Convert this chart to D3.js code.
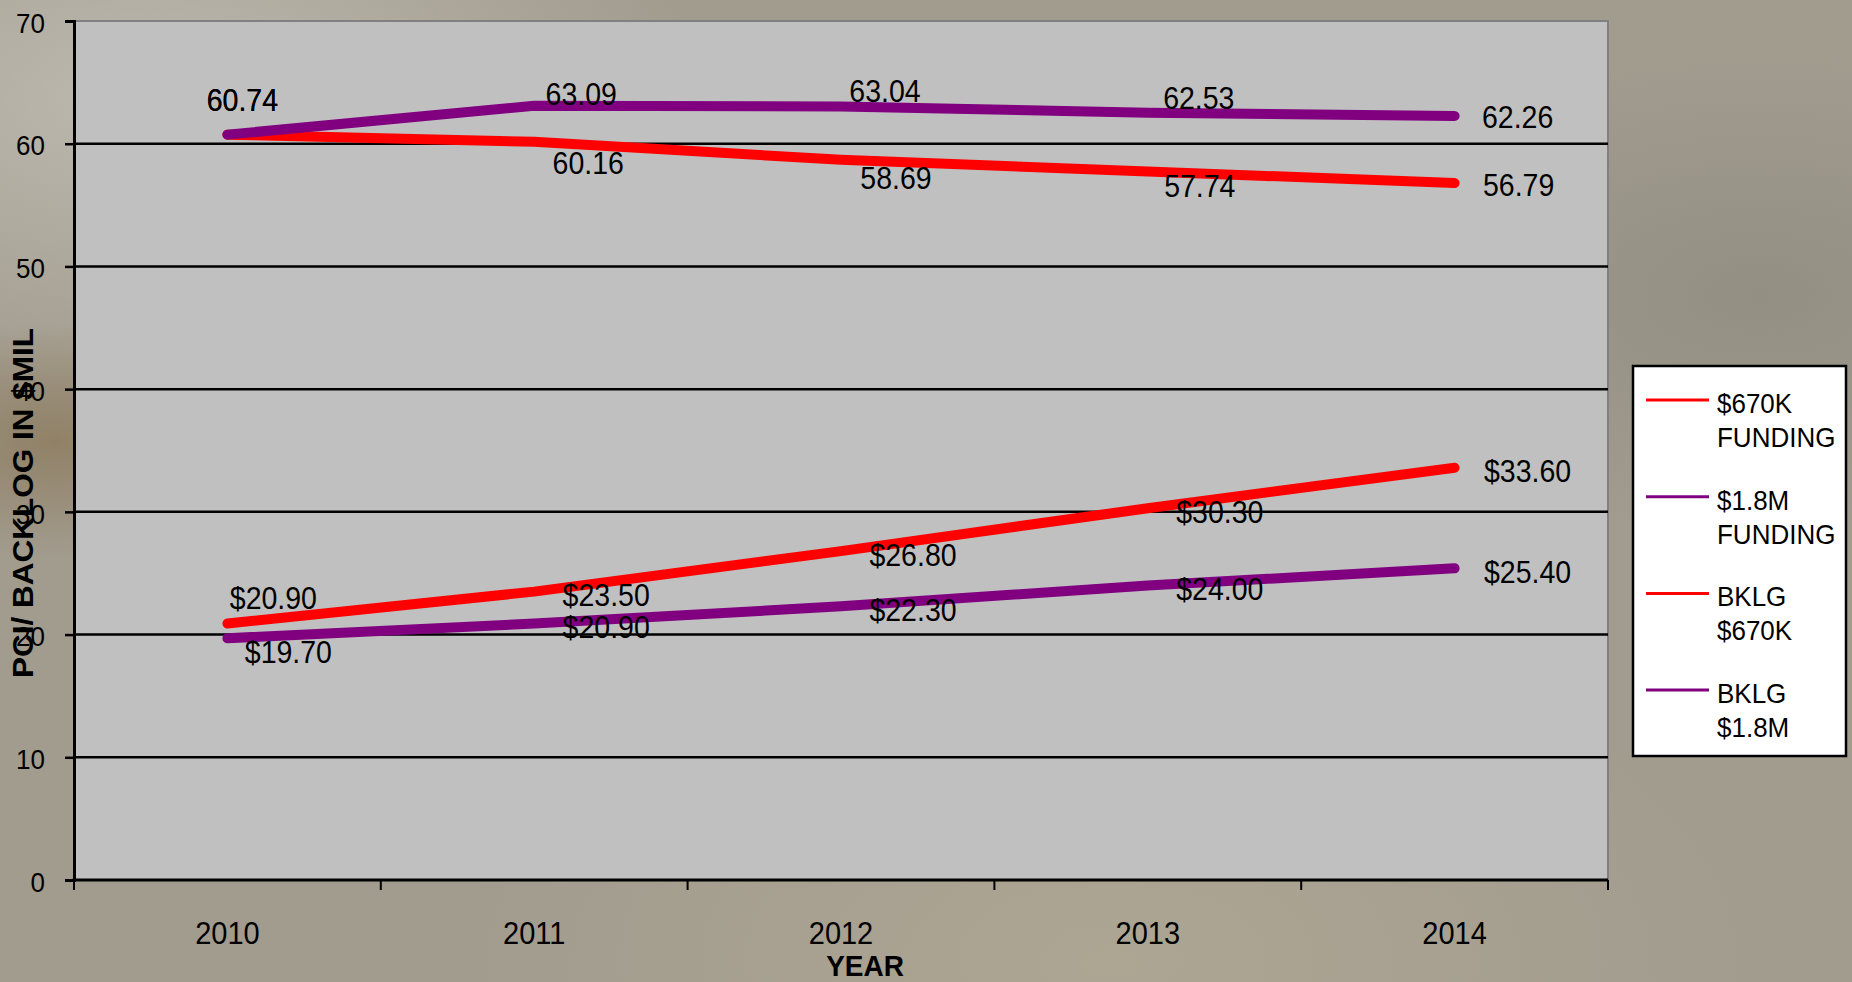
<!DOCTYPE html>
<html>
<head>
<meta charset="utf-8">
<script src="https://cdn.jsdelivr.net/npm/d3@7"></script>
<style>
  html, body { margin: 0; padding: 0; background: #a39e92; }
  svg { display: block; }
  text { font-family: 'Liberation Sans', Arial, sans-serif; fill: #000; }
</style>
</head>
<body>
<svg id="chart" width="1852" height="982"></svg>
<script>
const years = ['2010', '2011', '2012', '2013', '2014']
const funding670 = [60.74, 60.16, 58.69, 57.74, 56.79]
const funding18 = [60.74, 63.09, 63.04, 62.53, 62.26]
const backlog670 = [20.90, 23.50, 26.80, 30.30, 33.60]
const backlog18 = [19.70, 20.90, 22.30, 24.00, 25.40]
const yTicks = [0, 10, 20, 30, 40, 50, 60, 70]
const legendNames = [['$670K', 'FUNDING'], ['$1.8M', 'FUNDING'], ['BKLG', '$670K'], ['BKLG', '$1.8M']]

// where Excel put each value label, relative to its point (centre of the text)
const labelOffsets = [
  [[15, -35], [54, 21], [55, 18], [52, 15], [64, 2]],
  [[15, -35], [47, -12], [44, -15], [51, -15], [63, 1]],
  [[46, -25], [72, 3], [72, 4], [72, 4], [73, 3]],
  [[61, 14], [72, 4], [72, 4], [72, 4], [73, 4]]
]

const red = '#ff0000'
const purple = '#800080'

const series = [
  { values: funding670, color: red, fmt: d3.format('.2f') },
  { values: funding18, color: purple, fmt: d3.format('.2f') },
  { values: backlog670, color: red, fmt: d => '$' + d3.format('.2f')(d) },
  { values: backlog18, color: purple, fmt: d => '$' + d3.format('.2f')(d) }
]

const svg = d3.select('#chart')
const margin = { top: 21, right: 244, bottom: 102, left: 74 }
const width = 1852
const height = 982

// the original text is a little taller than it is wide
const stretch = 'scale(1,1.08)'

// stone-ish backdrop
const defs = svg.append('defs')
const blobs = [
  { id: 'b1', cx: '8%', cy: '10%', r: '30%', c: '#c4c0b6' },
  { id: 'b2', cx: '3%', cy: '45%', r: '12%', c: '#8c7a5c' },
  { id: 'b3', cx: '95%', cy: '30%', r: '25%', c: '#8f8c80' },
  { id: 'b4', cx: '60%', cy: '98%', r: '35%', c: '#b0a894' }
]
svg.append('rect').attr('width', width).attr('height', height).attr('fill', '#a29c8f')
blobs.forEach(b => {
  const g = defs.append('radialGradient').attr('id', b.id)
    .attr('cx', b.cx).attr('cy', b.cy).attr('r', b.r)
    .attr('gradientUnits', 'objectBoundingBox')
  g.append('stop').attr('offset', 0).attr('stop-color', b.c).attr('stop-opacity', 0.8)
  g.append('stop').attr('offset', 1).attr('stop-color', b.c).attr('stop-opacity', 0)
  svg.append('rect').attr('width', width).attr('height', height).attr('fill', `url(#${b.id})`)
})

const x = d3.scaleBand()
  .domain(years)
  .range([margin.left, width - margin.right])

const y = d3.scaleLinear()
  .domain([0, 70])
  .range([height - margin.bottom, margin.top])

const cx = d => x(d) + x.bandwidth() / 2

// plot area
svg.append('rect')
  .attr('x', margin.left)
  .attr('y', margin.top)
  .attr('width', width - margin.right - margin.left)
  .attr('height', y(0) - margin.top)
  .attr('fill', '#c0c0c0')
  .attr('stroke', '#808080')
  .attr('stroke-width', 2)

// gridlines
svg.append('g')
  .selectAll('line')
  .data(yTicks.filter(t => t > 0 && t < 70))
  .enter()
  .append('line')
  .attr('x1', margin.left)
  .attr('x2', width - margin.right)
  .attr('y1', d => y(d))
  .attr('y2', d => y(d))
  .attr('stroke', '#000')
  .attr('stroke-width', 2.5)

const yAxis = g => g
  .attr('transform', `translate(${margin.left},0)`)
  .call(d3.axisLeft(y).tickValues(yTicks).tickSize(9).tickPadding(20))
  .call(g => g.select('.domain').attr('stroke-width', 3))
  .call(g => g.selectAll('.tick line').attr('stroke-width', 2.5))
  .call(g => g.selectAll('.tick text')
    .attr('font-size', 26)
    .attr('font-family', 'Liberation Sans, Arial, sans-serif')
    .attr('dy', '0.4em')
    .attr('transform', stretch))

// x ticks sit on the band edges, labels in the band centres
const xEdges = years.map(d => x(d)).concat([width - margin.right])
const xAxis = g => {
  g.append('line')
    .attr('x1', margin.left - 1.5)
    .attr('x2', width - margin.right)
    .attr('y1', y(0))
    .attr('y2', y(0))
    .attr('stroke', '#000')
    .attr('stroke-width', 3)
  g.selectAll('line.tick')
    .data(xEdges)
    .enter()
    .append('line')
    .attr('class', 'tick')
    .attr('x1', d => d)
    .attr('x2', d => d)
    .attr('y1', y(0))
    .attr('y2', y(0) + 10)
    .attr('stroke', '#000')
    .attr('stroke-width', 2)
  g.selectAll('text')
    .data(years)
    .enter()
    .append('text')
    .attr('transform', d => `translate(${cx(d)},${y(0) + 53}) ${stretch}`)
    .attr('text-anchor', 'middle')
    .attr('dominant-baseline', 'central')
    .attr('font-size', 29)
    .text(d => d)
}

svg.append('g').call(yAxis)
svg.append('g').call(xAxis)

// axis titles
svg.append('text')
  .attr('transform', `translate(865,966) ${stretch}`)
  .attr('text-anchor', 'middle')
  .attr('dominant-baseline', 'central')
  .attr('font-size', 28)
  .attr('font-weight', 'bold')
  .text('YEAR')

svg.append('text')
  .attr('transform', 'translate(23,503) rotate(-90)')
  .attr('text-anchor', 'middle')
  .attr('dominant-baseline', 'central')
  .attr('font-size', 29)
  .attr('font-weight', 'bold')
  .attr('textLength', 350)
  .attr('lengthAdjust', 'spacingAndGlyphs')
  .text('PCI/ BACKLOG IN $MIL')

// series lines
const line = d3.line()
  .x((d, i) => cx(years[i]))
  .y(d => y(d))

series.forEach(s => {
  svg.append('path')
    .datum(s.values)
    .attr('d', line)
    .attr('fill', 'none')
    .attr('stroke', s.color)
    .attr('stroke-width', 10)
    .attr('stroke-linecap', 'round')
    .attr('stroke-linejoin', 'round')
})

// value labels
series.forEach((s, si) => {
  svg.append('g')
    .selectAll('text')
    .data(s.values)
    .enter()
    .append('text')
    .attr('transform', (d, i) =>
      `translate(${cx(years[i]) + labelOffsets[si][i][0]},${y(d) + labelOffsets[si][i][1]}) ${stretch}`)
    .attr('text-anchor', 'middle')
    .attr('dominant-baseline', 'central')
    .attr('font-size', 28.5)
    .text(d => s.fmt(d))
})

// legend
const legend = svg.append('g').attr('transform', 'translate(1633,366)')
legend.append('rect')
  .attr('width', 213)
  .attr('height', 390)
  .attr('fill', '#fff')
  .attr('stroke', '#000')
  .attr('stroke-width', 2.5)

const entry = legend.selectAll('g.entry')
  .data(series)
  .enter()
  .append('g')
  .attr('class', 'entry')
  .attr('transform', (d, i) => `translate(0,${34 + i * 96.7})`)

entry.append('line')
  .attr('x1', 13)
  .attr('x2', 76)
  .attr('stroke', d => d.color)
  .attr('stroke-width', 3)

entry.append('text')
  .attr('transform', `translate(84,13) ${stretch}`)
  .attr('font-size', 26)
  .text((d, i) => legendNames[i][0])

entry.append('text')
  .attr('transform', `translate(84,47) ${stretch}`)
  .attr('font-size', 26)
  .text((d, i) => legendNames[i][1])
</script>
</body>
</html>
